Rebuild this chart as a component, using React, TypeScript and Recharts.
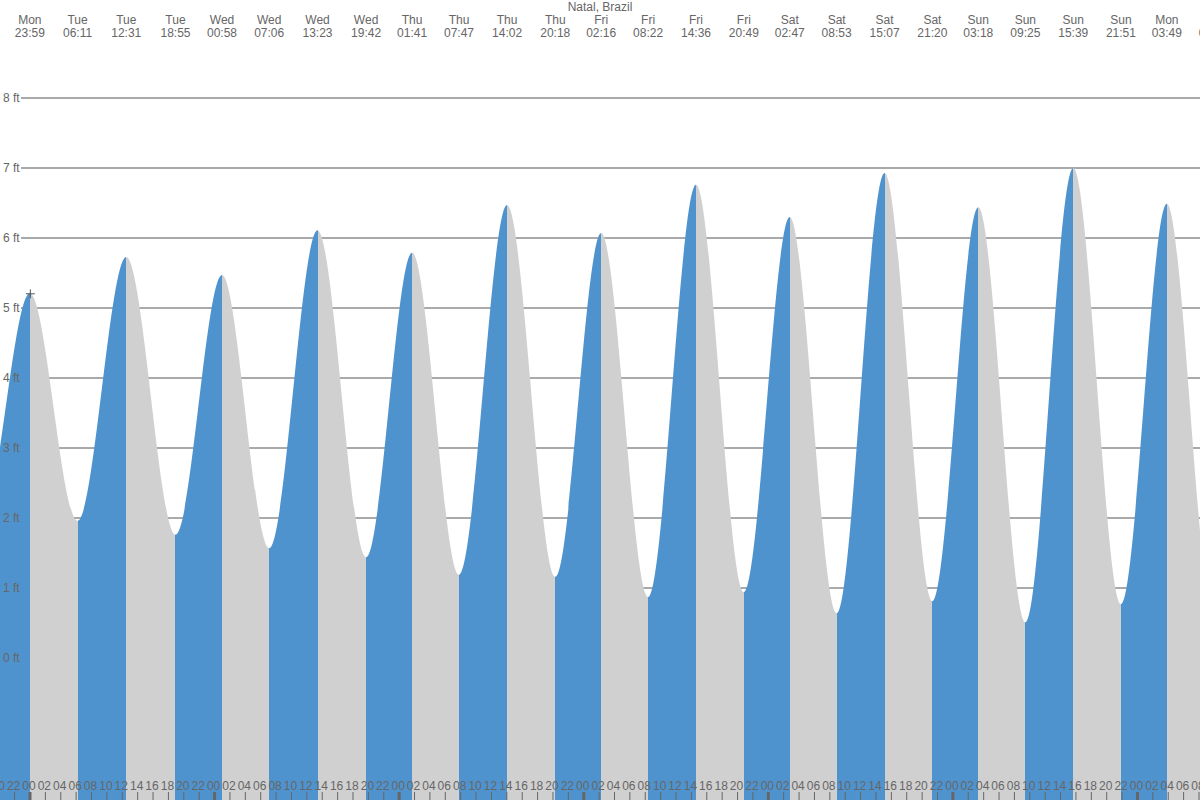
import { AreaChart, Area, XAxis, YAxis, CartesianGrid, ReferenceDot } from "recharts";

// high / low tides, Natal, Brazil (first two and last two are just off screen)
const dayNames = ["Mon", "Tue", "Wed", "Thu", "Fri", "Sat", "Sun", "Mon"];
const tideDayIndex = [0, 0, 0, 1, 1, 1, 2, 2, 2, 2, 3, 3, 3, 3, 4, 4, 4, 4, 5, 5, 5, 5, 6, 6, 6, 6, 7, 7, 7];
const tideTimes = [
  "11:36", "17:47", "23:59", "06:11", "12:31", "18:55", "00:58", "07:06", "13:23", "19:42",
  "01:41", "07:47", "14:02", "20:18", "02:16", "08:22", "14:36", "20:49",
  "02:47", "08:53", "15:07", "21:20", "03:18", "09:25", "15:39", "21:51",
  "03:49", "09:55", "16:10",
];
const tideHeights = [
  5.6, 2.0, 5.21, 1.96, 5.73, 1.76, 5.47, 1.57, 6.11, 1.44,
  5.79, 1.19, 6.47, 1.16, 6.07, 0.87, 6.76, 0.94,
  6.3, 0.64, 6.93, 0.81, 6.44, 0.51, 7.0, 0.77,
  6.49, 0.6, 6.95,
];
const heightTicks = [0, 1, 2, 3, 4, 5, 6, 7, 8];
const markerIndex = 2; // the "+" on Mon 23:59

// hours since the first Monday 00:00
const viewStart = 20.1;
const viewEnd = 176.13;

const BLUE = "#4f93ce";
const GRAY = "#d0d0d0";
const TEXT = "#666";
const FONT = "'Liberation Sans', Arial, sans-serif";

const toHours = (day: number, time: string) => {
  const [h, m] = time.split(":").map(Number);
  return day * 24 + h + m / 60;
};

const tideData = tideTimes.map((time, i) => ({
  hour: toHours(tideDayIndex[i], time),
  height: tideHeights[i],
  day: dayNames[tideDayIndex[i]],
  time,
}));

const hourTicks: number[] = [];
for (let h = 20; h <= 176; h += 2) hourTicks.push(h);

const firstHour = tideData[0].hour;
const lastHour = tideData[tideData.length - 1].hour;
const span = lastHour - firstHour;

// rising = blue, falling = gray
const stops = tideData.slice(0, -1).flatMap((p, i) => {
  const next = tideData[i + 1];
  const color = next.height > p.height ? BLUE : GRAY;
  return [
    { offset: (p.hour - firstHour) / span, color },
    { offset: (next.hour - firstHour) / span, color },
  ];
});

const BottomTick = (props: any) => {
  const { x, payload } = props;
  const h = ((payload.value % 24) + 24) % 24;
  const midnight = h === 0;
  return (
    <g>
      <text x={x - 1} y={790} textAnchor="middle" fontSize={12} fontFamily={FONT} fill={TEXT}>
        {String(h).padStart(2, "0")}
      </text>
      <line x1={x} x2={x} y1={792} y2={800} stroke={TEXT} strokeWidth={midnight ? 3 : 1} />
    </g>
  );
};

const TopTick = (props: any) => {
  const { x, payload } = props;
  const p = tideData.find((d) => Math.abs(d.hour - payload.value) < 1e-6);
  if (!p) return null;
  return (
    <g>
      <text x={x} y={24} textAnchor="middle" fontSize={12} fontFamily={FONT} fill={TEXT}>
        {p.day}
      </text>
      <text x={x} y={37} textAnchor="middle" fontSize={12} fontFamily={FONT} fill={TEXT}>
        {p.time}
      </text>
    </g>
  );
};

const LeftTick = (props: any) => {
  const { y, payload } = props;
  return (
    <text x={3} y={y + 4} textAnchor="start" fontSize={12} fontFamily={FONT} fill={TEXT}>
      {payload.value} ft
    </text>
  );
};

const Cross = (props: any) => {
  const { cx, cy } = props;
  return (
    <g stroke="#555" strokeWidth={1}>
      <line x1={cx - 4} x2={cx + 5} y1={cy + 0.5} y2={cy + 0.5} />
      <line x1={cx + 0.5} x2={cx + 0.5} y1={cy - 4} y2={cy + 5} />
    </g>
  );
};

export default function App() {
  const marker = tideData[markerIndex];
  // only label tides whose text can reach the visible window
  const topTicks = tideData.map((d) => d.hour).filter((h) => h > viewStart - 2.5 && h < viewEnd + 2.5);
  return (
    <div
      style={{
        position: "absolute",
        left: 0,
        top: 0,
        width: 1200,
        height: 800,
        background: "#fff",
        fontFamily: FONT,
      }}
    >
      <div
        style={{
          position: "absolute",
          left: 0,
          top: 0,
          width: 1200,
          textAlign: "center",
          fontSize: 12,
          lineHeight: "14px",
          color: TEXT,
        }}
      >
        Natal, Brazil
      </div>
      <AreaChart
        width={1200}
        height={800}
        data={tideData}
        margin={{ top: 0, right: 0, bottom: 0, left: 0 }}
      >
        <defs>
          <linearGradient id="tideFill" x1="0" y1="0" x2="1" y2="0">
            {stops.map((s, i) => (
              <stop key={i} offset={s.offset} stopColor={s.color} />
            ))}
          </linearGradient>
        </defs>
        <CartesianGrid
          vertical={false}
          horizontalValues={heightTicks}
          x={21}
          width={1179}
          stroke="#555"
        />
        <XAxis
          xAxisId="bottom"
          dataKey="hour"
          type="number"
          domain={[viewStart, viewEnd]}
          allowDataOverflow
          ticks={hourTicks}
          interval={0}
          orientation="bottom"
          mirror
          axisLine={false}
          tickLine={false}
          tick={BottomTick}
        />
        <XAxis
          xAxisId="top"
          dataKey="hour"
          type="number"
          domain={[viewStart, viewEnd]}
          allowDataOverflow
          ticks={topTicks}
          interval={0}
          orientation="top"
          mirror
          axisLine={false}
          tickLine={false}
          tick={TopTick}
        />
        <YAxis
          type="number"
          domain={[-142 / 70, 658 / 70]}
          allowDataOverflow
          ticks={heightTicks}
          interval={0}
          mirror
          axisLine={false}
          tickLine={false}
          tick={LeftTick}
        />
        <Area
          xAxisId="bottom"
          type="monotone"
          dataKey="height"
          baseValue="dataMin"
          fill="url(#tideFill)"
          fillOpacity={1}
          stroke="none"
          isAnimationActive={false}
        />
        <ReferenceDot
          xAxisId="bottom"
          x={marker.hour}
          y={marker.height}
          r={4}
          shape={Cross}
        />
      </AreaChart>
    </div>
  );
}
